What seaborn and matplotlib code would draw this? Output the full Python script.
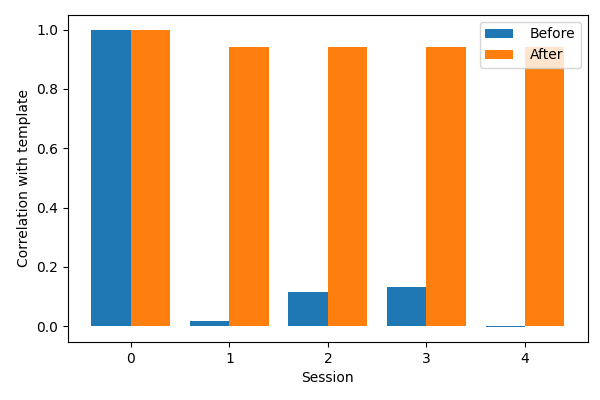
import pandas as pd
import matplotlib
matplotlib.use('Agg')
import matplotlib.pyplot as plt
import seaborn as sns

sessions = [0, 1, 2, 3, 4]
before = [1.0, 0.017, 0.115, 0.132, -0.003]
after = [1.0, 0.94, 0.94, 0.94, 0.94]

df = pd.DataFrame({
    'Session': sessions * 2,
    'corr': before + after,
    'kind': ['Before'] * len(sessions) + ['After'] * len(sessions),
})

fig, ax = plt.subplots(figsize=(6, 4), dpi=100)
sns.barplot(data=df, x='Session', y='corr', hue='kind', ax=ax,
            palette=['#1f77b4', '#ff7f0e'], saturation=1, width=0.8, gap=0)
ax.set_xlabel('Session')
ax.set_ylabel('Correlation with template')
ax.margins(x=0.05, y=0.05)
ax.autoscale_view()
ax.legend(loc='upper right', handletextpad=1.2, title=None)
fig.subplots_adjust(left=0.113, right=0.98, top=0.963, bottom=0.145)
fig.savefig('out.png')
